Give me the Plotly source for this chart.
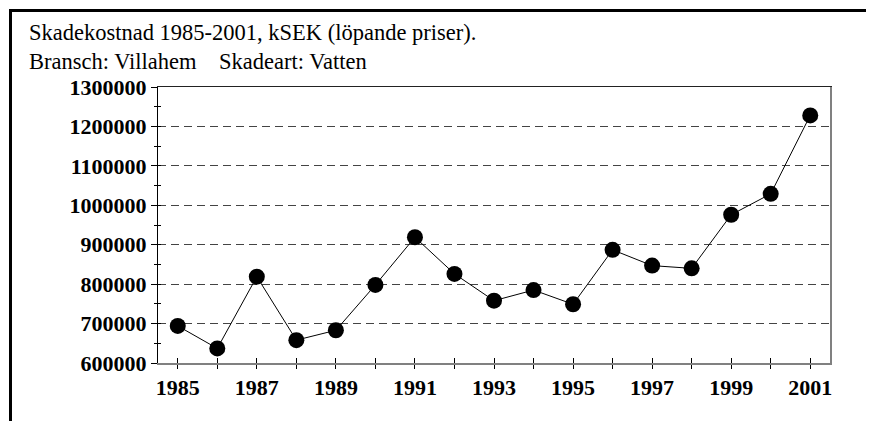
import plotly.graph_objects as go

years = list(range(1985, 2002))
cost = [694000, 637000, 819000, 658000, 683000, 798000, 919000, 826000, 758000,
        785000, 749000, 887000, 847000, 840000, 976000, 1029000, 1228000]
title_lines = ["Skadekostnad 1985-2001, kSEK (löpande priser).",
               "Bransch: Villahem\u00a0\u00a0\u00a0\u00a0Skadeart: Vatten"]
y_ticks = list(range(600000, 1300001, 100000))
x_labels = [str(y) if y % 2 == 1 else "" for y in years]

XR = [1984.5, 2001.5]
YR = [600000, 1300000]
tickfont = dict(family="Liberation Serif", size=22, color="black", weight="bold")

W, H = 866, 413
L, R, T, B = 150, 44, 79, 58
PW, PH = W - L - R, H - T - B

fig = go.Figure()
fig.add_trace(go.Scatter(x=years, y=cost, mode="lines+markers",
                         line=dict(color="black", width=1),
                         marker=dict(color="black", size=16),
                         showlegend=False, cliponaxis=False))
fig.add_trace(go.Scatter(x=[None], y=[None], xaxis="x2", yaxis="y2", showlegend=False))
fig.add_trace(go.Scatter(x=[None], y=[None], xaxis="x3", yaxis="y3", showlegend=False))

annotations = []
for i, line in enumerate(title_lines):
    annotations.append(dict(text=line, xref="paper", yref="paper",
                            x=(19 - L) / PW, xanchor="left",
                            y=1 + (T - (24 + 29 * i)) / PH, yanchor="middle",
                            showarrow=False,
                            font=dict(family="Liberation Serif", size=22.5, color="black")))

fig.update_layout(
    width=W, height=H,
    paper_bgcolor="white", plot_bgcolor="white",
    margin=dict(l=L, r=R, t=T, b=B),
    annotations=annotations,
    xaxis=dict(range=XR, tickvals=years, ticktext=x_labels, ticks="outside", ticklen=4,
               tickcolor="black", tickwidth=1, showline=True, linecolor="#808080", linewidth=2,
               showgrid=False, zeroline=False, tickfont=tickfont),
    xaxis2=dict(range=XR, overlaying="x", anchor="y", side="bottom", tickvals=years,
                ticks="inside", ticklen=5, tickcolor="black", showticklabels=False,
                showline=False, showgrid=False, zeroline=False),
    xaxis3=dict(range=XR, overlaying="x", anchor="y", side="top", showline=True,
                linecolor="#222", linewidth=1, ticks="", showticklabels=False,
                showgrid=False, zeroline=False),
    yaxis=dict(range=YR, tickvals=y_ticks, ticktext=[str(v) for v in y_ticks],
               ticks="outside", ticklen=6, tickcolor="black", showline=True,
               linecolor="black", linewidth=1, showgrid=True, gridcolor="#444",
               griddash="8px,5px", gridwidth=1, zeroline=False, tickfont=tickfont,
               minor=dict(dtick=50000, tick0=600000, ticks="outside", ticklen=3,
                          tickcolor="black", showgrid=False)),
    yaxis2=dict(range=YR, overlaying="y", anchor="x", side="left", dtick=50000, tick0=600000,
                ticks="inside", ticklen=3, tickcolor="black", showticklabels=False,
                showline=False, showgrid=False, zeroline=False),
    yaxis3=dict(range=YR, overlaying="y", anchor="x", side="right", showline=True,
                linecolor="#808080", linewidth=2, ticks="", showticklabels=False,
                showgrid=False, zeroline=False),
    shapes=[
        dict(type="line", xref="paper", yref="paper", x0=(1 - L) / PW, x1=(W - L) / PW,
             y0=1 + (T - 2.5) / PH, y1=1 + (T - 2.5) / PH, line=dict(color="black", width=3)),
        dict(type="line", xref="paper", yref="paper", x0=(2.5 - L) / PW, x1=(2.5 - L) / PW,
             y0=1 + (T - 1) / PH, y1=-B / PH, line=dict(color="black", width=3)),
    ],
)
fig.write_html("out.html")
